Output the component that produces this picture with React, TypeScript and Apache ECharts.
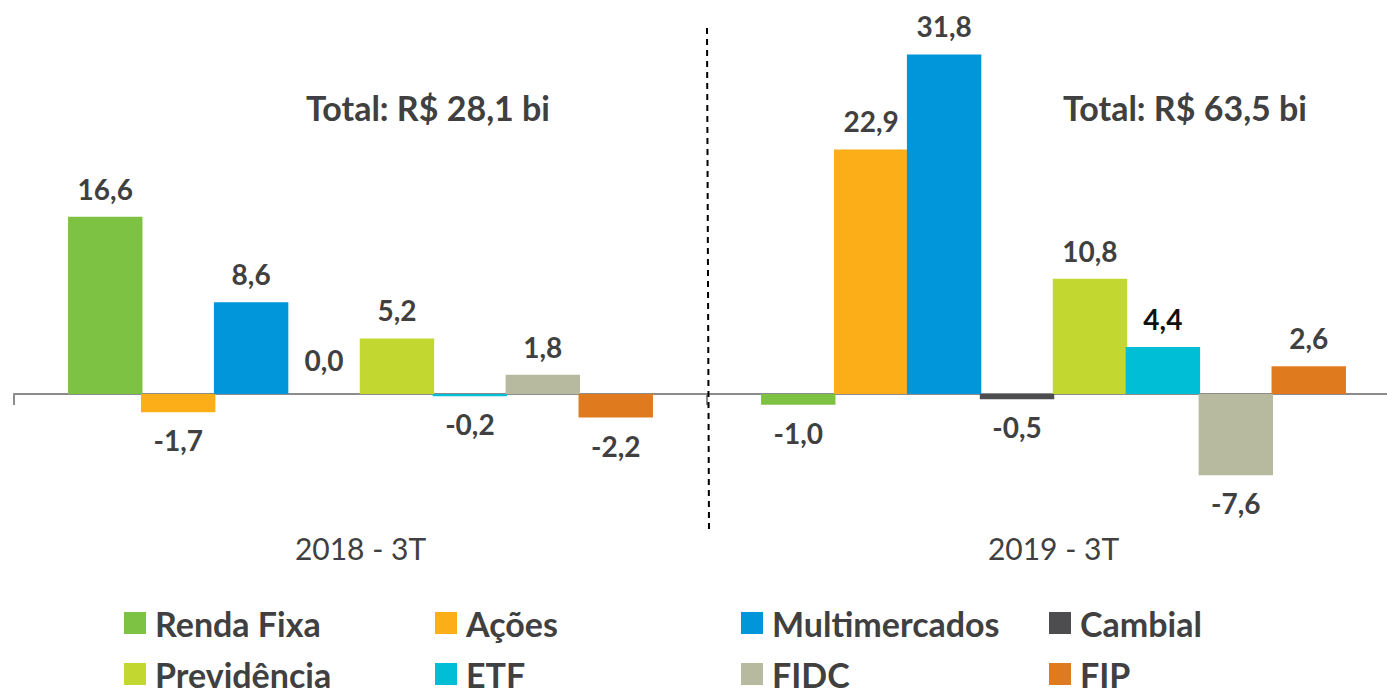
import React, { useEffect, useRef } from "react";
import * as echarts from "echarts";

const categories = ["2018 - 3T", "2019 - 3T"];
const seriesNames = ["Renda Fixa", "Ações", "Multimercados", "Cambial", "Previdência", "ETF", "FIDC", "FIP"];
const rendaFixa = [16.6, -1.0];
const acoes = [-1.7, 22.9];
const multimercados = [8.6, 31.8];
const cambial = [0.0, -0.5];
const previdencia = [5.2, 10.8];
const etf = [-0.2, 4.4];
const fidc = [1.8, -7.6];
const fip = [-2.2, 2.6];
const totals = ["Total: R$ 28,1 bi", "Total: R$ 63,5 bi"];

const seriesValues = [rendaFixa, acoes, multimercados, cambial, previdencia, etf, fidc, fip];
const colors = ["#7DC243", "#FBAE17", "#0096D9", "#4D4D4F", "#C2D72F", "#00BED6", "#B7BA9E", "#E07A1F"];

const FONT = "Lato, 'Open Sans', sans-serif";
const TEXT = "#404040";
const GRID_LEFT = 14;
const GRID_WIDTH = 1386;
const GRID_TOP = 28;
const GRID_HEIGHT = 502;
const TOTAL_X = [428, 1185];
const LEGEND_COLS = [124, 435, 741, 1049];
const LEGEND_ROWS = [623, 674];

export default function App() {
  const ref = useRef<HTMLDivElement>(null);
  useEffect(() => {
    if (!ref.current) return;
    const chart = echarts.init(ref.current, undefined, { renderer: "svg" });
    const fmt = (v: number) => v.toFixed(1).replace(".", ",");
    const LEG_FS = 34;
    chart.setOption({
      animation: false,
      textStyle: { fontFamily: FONT },
      grid: {
        left: GRID_LEFT,
        width: GRID_WIDTH,
        top: GRID_TOP,
        height: GRID_HEIGHT,
        containLabel: false,
        outerBoundsMode: "none",
      },
      xAxis: {
        type: "category",
        data: categories,
        axisLine: { onZero: true, lineStyle: { color: "#8c8c8c", width: 2 } },
        axisTick: { show: true, length: 11, lineStyle: { color: "#8c8c8c", width: 2 } },
        axisLabel: { margin: 3, fontSize: 30, color: TEXT, fontFamily: FONT },
        splitLine: { show: false },
      },
      yAxis: {
        type: "value",
        min: -12.73,
        max: 34.27,
        show: false,
        splitLine: { show: false },
      },
      legend: seriesNames.map((name, i) => ({
        data: [name],
        orient: "horizontal",
        left: LEGEND_COLS[i % 4],
        top: LEGEND_ROWS[Math.floor(i / 4)] - LEG_FS / 2,
        padding: 0,
        itemWidth: 22,
        itemHeight: 22,
        icon: "rect",
        textStyle: {
          fontSize: LEG_FS,
          lineHeight: LEG_FS,
          fontWeight: "bold",
          color: TEXT,
          fontFamily: FONT,
          padding: [0, 0, 0, 4],
        },
        selectedMode: false,
      })),
      series: seriesNames.map((name, i) => ({
        name,
        type: "bar",
        barGap: "-2%",
        barCategoryGap: "15.6%",
        itemStyle: { color: colors[i] },
        label: {
          show: true,
          position: "outside",
          distance: 14,
          fontSize: 28,
          fontWeight: "bold",
          color: TEXT,
          fontFamily: FONT,
          formatter: (p: any) => fmt(p.value),
        },
        data: seriesValues[i].map((v, j) => {
          if (v === 0) return { value: v, label: { position: "top", distance: 20 } };
          if (name === "ETF" && j === 1) return { value: v, label: { color: "#111" } };
          return v;
        }),
      })),
      graphic: [
        {
          type: "line",
          shape: {
            x1: GRID_LEFT + GRID_WIDTH / 2,
            y1: GRID_TOP,
            x2: GRID_LEFT + GRID_WIDTH / 2 + 2,
            y2: GRID_TOP + GRID_HEIGHT,
          },
          style: { stroke: "#000", lineWidth: 2, lineDash: [6, 5] },
          z: 10,
        },
        ...totals.map((t, i) => ({
          type: "text",
          x: TOTAL_X[i],
          y: 107,
          style: {
            text: t,
            font: `bold 34px ${FONT}`,
            fill: TEXT,
            textAlign: "center",
            textVerticalAlign: "middle",
          },
        })),
      ],
    });
    return () => chart.dispose();
  }, []);
  return <div ref={ref} style={{ position: "absolute", left: 0, top: 0, width: 1387, height: 688 }} />;
}
